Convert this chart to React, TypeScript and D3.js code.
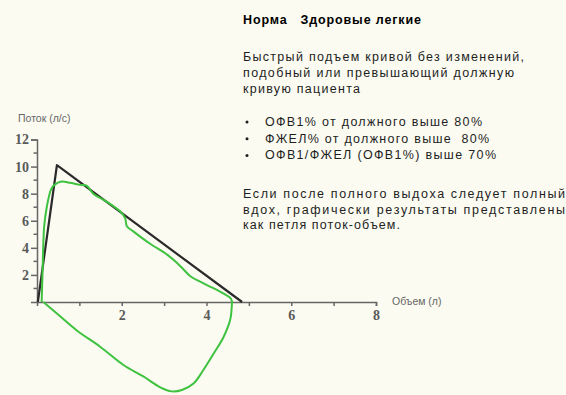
import React, { useEffect, useRef } from 'react';
import * as d3 from 'd3';

// black: predicted (должная) curve
const predVolume = [0.02, 0.47, 4.84];
const predFlow = [0, 10.1, 0];

// green: patient loop, expiration then inspiration
const loopVolume = [
  0.11, 0.13, 0.17, 0.23, 0.33, 0.41, 0.58, 0.78, 1.02, 1.17, 1.33, 1.65, 1.96, 2.08, 2.12,
  2.28, 2.67, 3.07, 3.3, 3.46, 3.62, 4.01, 4.33, 4.56, 4.6,
  4.6, 4.56, 4.4, 4.17, 3.93, 3.7, 3.42, 3.18, 2.91, 2.51, 2.04, 1.49, 0.94, 0.47, 0.15,
];
const loopFlow = [
  0, 2.1, 5.6, 7.0, 8.3, 8.65, 8.9, 8.8, 8.65, 8.6, 8.0, 7.4, 6.7, 6.2, 5.6,
  5.2, 4.3, 3.5, 2.9, 2.4, 1.9, 1.25, 0.75, 0.3, 0.05,
  -0.1, -1.3, -2.6, -3.8, -5.0, -6.0, -6.5, -6.6, -6.3, -5.5, -4.65, -3.3, -2.1, -0.85, 0,
];

const xTickLabels = [2, 4, 6, 8];
const yTickLabels = [2, 4, 6, 8, 10, 12];

const title = 'Норма   Здоровые легкие';
const para1 = [
  'Быстрый подъем кривой без изменений,',
  'подобный или превышающий должную',
  'кривую пациента',
];
const bullets = [
  'ОФВ1% от должного выше 80%',
  'ФЖЕЛ% от должного выше  80%',
  'ОФВ1/ФЖЕЛ (ОФВ1%) выше 70%',
];
const para2 = [
  'Если после полного выдоха следует полный',
  'вдох, графически результаты представлены',
  'как петля поток-объем.',
];

const App = () => {
  const svgRef = useRef<SVGSVGElement>(null);
  const width = 566;
  const height = 395;

  useEffect(() => {
    const svg = d3.select(svgRef.current);
    svg.selectAll('*').remove();

    svg.append('rect').attr('width', width).attr('height', height).attr('fill', '#fbfbf1');

    const x = d3.scaleLinear().domain([0, 8]).range([37, 376]);
    const y = d3.scaleLinear().domain([0, 12]).range([302, 139.5]);
    const axisColor = '#666';

    // x axis
    const gx = svg.append('g').attr('transform', `translate(0, ${y(0)})`);
    gx.call(
      d3.axisBottom(x)
        .tickValues(d3.range(1, 9))
        .tickSize(4)
        .tickFormat((d: any) => (xTickLabels.includes(d) ? String(d) : ''))
    );
    gx.select('.domain').attr('stroke', axisColor).attr('stroke-width', 1.5);
    gx.selectAll('.tick line').attr('stroke', axisColor).attr('stroke-width', 1.5);
    gx.selectAll('.tick text')
      .attr('y', 8)
      .attr('fill', '#5a5a5a')
      .style('font-family', '"Liberation Serif", serif')
      .style('font-weight', 'bold')
      .style('font-size', '14px');

    // y axis: major ticks with labels, minor ticks between
    const gy = svg.append('g').attr('transform', `translate(${x(0)}, 0)`);
    gy.call(d3.axisLeft(y).tickValues(yTickLabels).tickSize(6).tickPadding(2));
    gy.select('.domain').attr('stroke', axisColor).attr('stroke-width', 1.5);
    gy.selectAll('.tick line').attr('stroke', axisColor).attr('stroke-width', 1.5);
    gy.selectAll('.tick text')
      .attr('fill', '#5a5a5a')
      .style('font-family', '"Liberation Serif", serif')
      .style('font-weight', 'bold')
      .style('font-size', '14px');
    gy.selectAll('.minor')
      .data(d3.range(1, 12, 2))
      .enter().append('line')
      .attr('x1', -3.5)
      .attr('x2', 0)
      .attr('y1', d => y(d))
      .attr('y2', d => y(d))
      .attr('stroke', axisColor)
      .attr('stroke-width', 1.5);

    // axis titles
    svg.append('text')
      .attr('x', 18).attr('y', 122)
      .attr('fill', '#666')
      .style('font-family', '"Liberation Sans", Arial, sans-serif')
      .style('font-size', '10.5px')
      .text('Поток (л/с)');
    svg.append('text')
      .attr('x', 392).attr('y', 305)
      .attr('fill', '#666')
      .style('font-family', '"Liberation Sans", Arial, sans-serif')
      .style('font-size', '10.5px')
      .text('Объем (л)');

    const pred = d3.line<number>()
      .x(i => x(predVolume[i]))
      .y(i => y(predFlow[i]));
    svg.append('path')
      .attr('d', pred(d3.range(predVolume.length)))
      .attr('fill', 'none')
      .attr('stroke', '#2a2a2a')
      .attr('stroke-width', 2.2)
      .attr('stroke-linejoin', 'round');

    const loop = d3.line<number>()
      .x(i => x(loopVolume[i]))
      .y(i => y(loopFlow[i]))
      .curve(d3.curveCatmullRom.alpha(0.5));
    svg.append('path')
      .attr('d', loop(d3.range(loopVolume.length)))
      .attr('fill', 'none')
      .attr('stroke', '#3fc23f')
      .attr('stroke-width', 2)
      .attr('stroke-linejoin', 'round');

    // text block on the right
    const font = '"Liberation Sans", Arial, sans-serif';
    const addLine = (txt: string, tx: number, ty: number, len: number, bold = false) =>
      svg.append('text')
        .attr('x', tx).attr('y', ty)
        .attr('fill', bold ? '#000' : '#1e1e1e')
        .attr('textLength', len)
        .attr('lengthAdjust', 'spacing')
        .style('font-family', font)
        .style('font-size', '12.5px')
        .style('font-weight', bold ? 'bold' : 'normal')
        .style('white-space', 'pre')
        .text(txt);

    addLine(title, 243, 24, 178, true);
    const p1Len = [281, 271, 117];
    para1.forEach((t, i) => addLine(t, 243, 61 + i * 16, p1Len[i]));
    const bLen = [217, 224, 231];
    bullets.forEach((t, i) => {
      svg.append('circle').attr('cx', 247).attr('cy', 122 + i * 16.7).attr('r', 1.5).attr('fill', '#1e1e1e');
      addLine(t, 265, 126 + i * 16.7, bLen[i]);
    });
    const p2Len = [322, 322, 157];
    para2.forEach((t, i) => addLine(t, 243, 198 + i * 15.5, p2Len[i]));
  }, []);

  return (
    <svg
      ref={svgRef}
      width={width}
      height={height}
      style={{ position: 'absolute', left: 0, top: 0, display: 'block' }}
    />
  );
};

export default App;
